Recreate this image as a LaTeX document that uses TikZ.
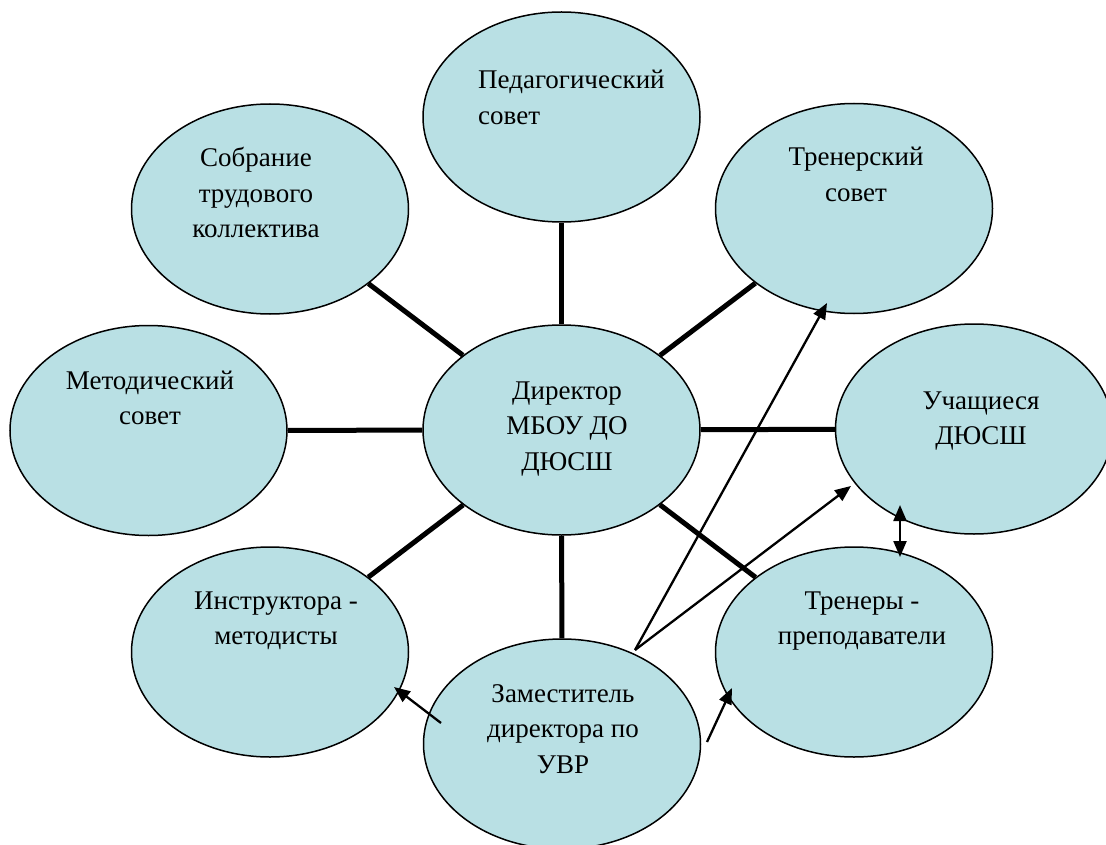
\documentclass[tikz,border=0pt]{standalone}
\usepackage{fontspec}
\setmainfont{Liberation Serif}
\usetikzlibrary{arrows.meta,shapes.geometric}
\definecolor{bubble}{RGB}{185,224,228}
\tikzset{
  bub/.style={ellipse, draw=black, line width=1.5pt, fill=bubble, inner sep=0pt,
    minimum width=277pt, minimum height=210pt},
  txt/.style={inner sep=0pt, anchor=base, font=\fontsize{27}{35.5}\selectfont},
  link/.style={line width=5pt, black},
  arr/.style={line width=2.3pt, black, -{Triangle[length=16pt,width=13pt]}},
  darr/.style={line width=2.3pt, black, {Triangle[length=16pt,width=13pt]}-{Triangle[length=16pt,width=13pt]}}
}
\begin{document}
\begin{tikzpicture}[x=1pt,y=-1pt]
\useasboundingbox (0,0) rectangle (1106,845);
\coordinate (cped) at (561.5,117);
\coordinate (csob) at (270,209);
\coordinate (ctrs) at (854,208.5);
\coordinate (cmet) at (148.5,430.5);
\coordinate (cdir) at (561.5,430);
\coordinate (cuch) at (974,429);
\coordinate (cins) at (270,652);
\coordinate (ctrp) at (854,652);
\coordinate (czam) at (562,744);
% ellipses
\node[bub] (ped) at (cped) {};
\node[bub] (sob) at (csob) {};
\node[bub] (trs) at (ctrs) {};
\node[bub] (met) at (cmet) {};
\node[bub] (dir) at (cdir) {};
\node[bub] (uch) at (cuch) {};
\node[bub] (ins) at (cins) {};
\node[bub] (trp) at (ctrp) {};
\node[bub] (zam) at (czam) {};
% thick connectors
\draw[link] (dir) -- (ped);
\draw[link] (dir) -- (sob);
\draw[link] (dir) -- (trs);
\draw[link] (dir) -- (met);
\draw[link] (dir) -- (uch);
\draw[link] (dir) -- (ins);
\draw[link] (dir) -- (trp);
\draw[link] (dir) -- (zam);
% texts
\node[txt, anchor=base west] (tped) at (478,89) {\begin{tabular}[t]{@{}l@{}}Педагогический\\совет\end{tabular}};
\node[txt] (tsob) at (256,167) {\begin{tabular}[t]{@{}c@{}}Собрание\\трудового\\коллектива\end{tabular}};
\node[txt] (ttrs) at (856,166) {\begin{tabular}[t]{@{}c@{}}Тренерский\\совет\end{tabular}};
\node[txt] (tmet) at (150,389) {\begin{tabular}[t]{@{}c@{}}Методический\\совет\end{tabular}};
\node[txt] (tdir) at (567,399) {\begin{tabular}[t]{@{}c@{}}Директор\\МБОУ ДО\\ДЮСШ\end{tabular}};
\node[txt] (tuch) at (981,409) {\begin{tabular}[t]{@{}c@{}}Учащиеся\\ДЮСШ\end{tabular}};
\node[txt] (tins) at (276,609) {\begin{tabular}[t]{@{}c@{}}Инструктора -\\методисты\end{tabular}};
\node[txt] (ttrp) at (862,609) {\begin{tabular}[t]{@{}c@{}}Тренеры -\\преподаватели\end{tabular}};
\node[txt] (tzam) at (563,702) {\begin{tabular}[t]{@{}c@{}}Заместитель\\директора по\\УВР\end{tabular}};
% thin arrows
\coordinate (zs1) at (635,650);
\coordinate (te1) at (827,303);
\coordinate (ue1) at (851,486);
\coordinate (ut) at (900,505);
\coordinate (tb) at (900,557);
\coordinate (zs2) at (441,723);
\coordinate (ie) at (394,687);
\coordinate (zs3) at (707,742);
\coordinate (pe) at (732,688);
\draw[arr] (zs1) -- (te1);
\draw[arr] (zs1) -- (ue1);
\draw[darr] (tb) -- (ut);
\draw[arr] (zs2) -- (ie);
\draw[arr] (zs3) -- (pe);
\end{tikzpicture}
\end{document}
